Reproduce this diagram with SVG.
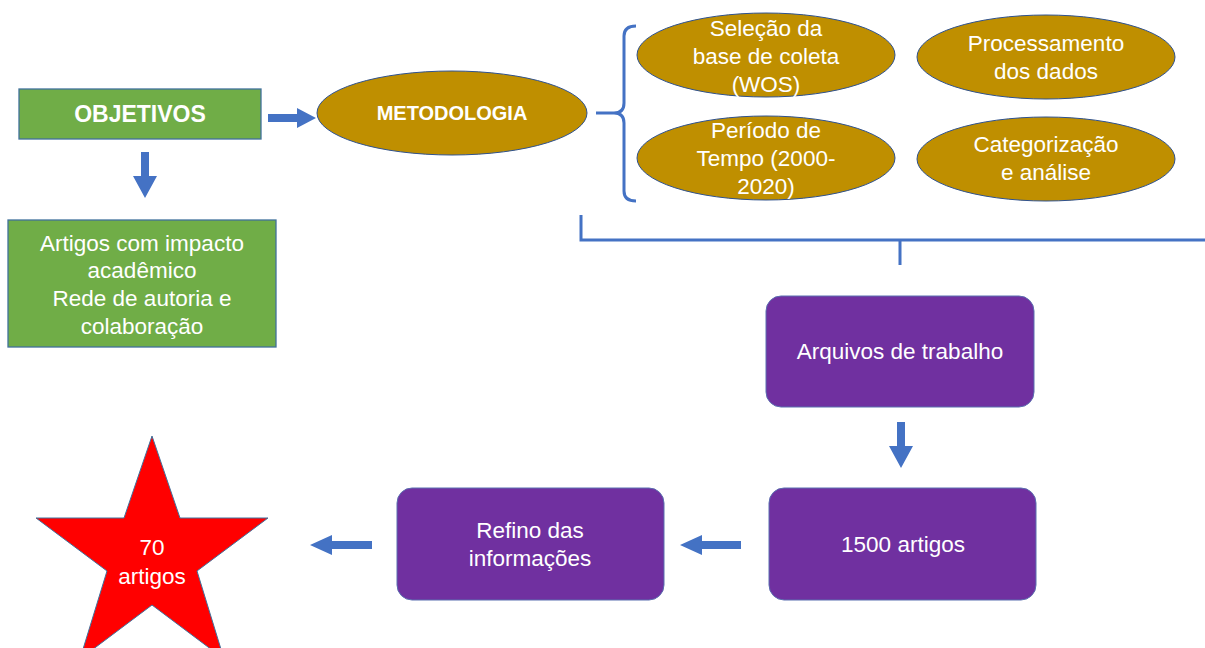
<svg xmlns="http://www.w3.org/2000/svg" width="1205" height="648" viewBox="0 0 1205 648">
<defs>
<style>
.t{font-family:"Liberation Sans",Arial,sans-serif;fill:#fff;text-anchor:middle;font-size:22.5px}
.b{font-weight:bold}
.g{fill:#70AD47;stroke:#41719C;stroke-width:1.3}
.e{fill:#BF8F00;stroke:#2F528F;stroke-width:1}
.p{fill:#7030A0;stroke:#5B6FB0;stroke-width:1}
.a{fill:#4472C4}
.l{fill:none;stroke:#4472C4;stroke-width:3}
</style>
</defs>
<rect width="1205" height="648" fill="#fff"/>
<g id="connectors">
<polygon class="a" points="268,114 297,114 297,108 316,118 297,128 297,122 268,122"/>
<polygon class="a" points="141,152 149,152 149,176 157,176 145,198 133,176 141,176"/>
<path class="l" d="M596,113 H614 M636,26 Q624,26 624,36 V103 Q624,113 614,113 Q624,113 624,123 V191 Q624,201 636,201"/>
<path class="l" d="M581,215 V240 H1205 M900,240 V265"/>
<polygon class="a" points="897,422 905,422 905,446 913,446 901,468 889,446 897,446"/>
<polygon class="a" points="741,541 702,541 702,535 680,545 702,555 702,549 741,549"/>
<polygon class="a" points="372,541 332,541 332,535 310,545 332,555 332,549 372,549"/>
</g>
<g id="objetivos">
<rect class="g" x="19" y="89" width="242" height="50"/>
<text class="t b" x="140" y="122" style="font-size:23px">OBJETIVOS</text>
</g>
<g id="metodologia">
<ellipse class="e" cx="452" cy="113" rx="135" ry="42"/>
<text class="t b" x="452" y="120" style="font-size:20px">METODOLOGIA</text>
</g>
<g id="artigos-impacto">
<rect class="g" x="8" y="220" width="268" height="127"/>
<text class="t" x="142" y="251">Artigos com impacto</text>
<text class="t" x="142" y="278">acadêmico</text>
<text class="t" x="142" y="306">Rede de autoria e</text>
<text class="t" x="142" y="334">colaboração</text>
</g>
<g id="selecao">
<ellipse class="e" cx="766" cy="55" rx="129" ry="42"/>
<text class="t" x="766" y="36">Seleção da</text>
<text class="t" x="766" y="64">base de coleta</text>
<text class="t" x="766" y="92">(WOS)</text>
</g>
<g id="processamento">
<ellipse class="e" cx="1046" cy="57" rx="129" ry="42"/>
<text class="t" x="1046" y="51">Processamento</text>
<text class="t" x="1046" y="79">dos dados</text>
</g>
<g id="periodo">
<ellipse class="e" cx="766" cy="158" rx="129" ry="42"/>
<text class="t" x="766" y="138">Período de</text>
<text class="t" x="766" y="166">Tempo (2000-</text>
<text class="t" x="766" y="194">2020)</text>
</g>
<g id="categorizacao">
<ellipse class="e" cx="1046" cy="159" rx="129" ry="42"/>
<text class="t" x="1046" y="152">Categorização</text>
<text class="t" x="1046" y="180">e análise</text>
</g>
<g id="arquivos">
<rect class="p" x="766" y="296" width="268" height="111" rx="15"/>
<text class="t" x="900" y="359">Arquivos de trabalho</text>
</g>
<g id="artigos1500">
<rect class="p" x="769" y="488" width="267" height="112" rx="15"/>
<text class="t" x="903" y="552">1500 artigos</text>
</g>
<g id="refino">
<rect class="p" x="397" y="488" width="267" height="112" rx="15"/>
<text class="t" x="530" y="538">Refino das</text>
<text class="t" x="530" y="566">informações</text>
</g>
<g id="estrela">
<polygon fill="#FF0000" stroke="#41719C" stroke-width="1" points="152,436 180,518 268,518 197,571 224,659 152,605 80,659 107,571 36,518 124,518"/>
<text class="t" x="152" y="555">70</text>
<text class="t" x="152" y="584">artigos</text>
</g>
</svg>
